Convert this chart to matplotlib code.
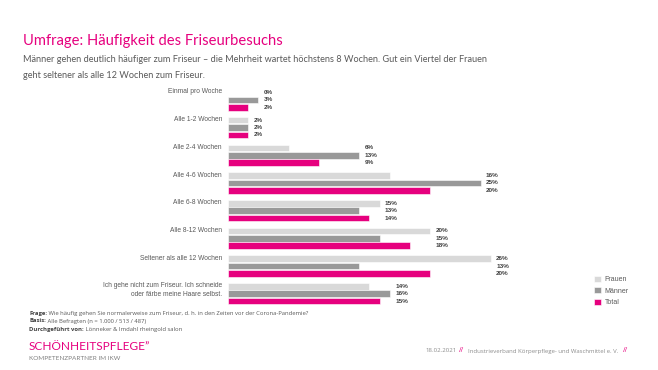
import numpy as np
import matplotlib
matplotlib.use("Agg")
import matplotlib.pyplot as plt

# Daten aus der Umfrage (Prozent)
kategorien = ["Einmal pro Woche", "Alle 1-2 Wochen", "Alle 2-4 Wochen", "Alle 4-6 Wochen",
              "Alle 6-8 Wochen", "Alle 8-12 Wochen", "Seltener als alle 12 Wochen",
              "Ich gehe nicht zum Friseur. Ich schneide\noder färbe meine Haare selbst."]
frauen = [0, 2, 6, 16, 15, 20, 26, 14]
maenner = [3, 2, 13, 25, 13, 15, 13, 16]
total = [2, 2, 9, 20, 14, 18, 20, 15]
serien = ["Frauen", "Männer", "Total"]

PINK = "#E6007E"
farben = ["#D9D9D9", "#999999", PINK]

W, H = 658, 370
fig = plt.figure(figsize=(W / 100, H / 100), dpi=100)
fig.patch.set_facecolor("white")

# Kopf
fig.text(23 / W, 1 - 41 / H, "Umfrage: Häufigkeit des Friseurbesuchs", color=PINK,
         fontsize=10.6, family="Lato", va="center")
fig.text(23 / W, 1 - 60 / H,
         "Männer gehen deutlich häufiger zum Friseur \u2013 die Mehrheit wartet höchstens 8 Wochen. "
         "Gut ein Viertel der Frauen", color="#595959", fontsize=6.6, family="Lato", va="center")
fig.text(23 / W, 1 - 75 / H, "geht seltener als alle 12 Wochen zum Friseur.",
         color="#595959", fontsize=6.6, family="Lato", va="center")

# Balken
gstep = 3.75
n = len(kategorien)
top_px, bot_px = 88.8, 304.8
ax = fig.add_axes([228 / W, 1 - bot_px / H, 303 / W, (bot_px - top_px) / H])
ax.set_xlim(0, 30)
ax.set_ylim(gstep * (n - 1) + 2 + 0.5, -0.5)
ax.axis("off")

basis = np.arange(n) * gstep
werte = [frauen, maenner, total]
for k in range(3):
    ax.barh(basis + k, werte[k], height=0.88, color=farben[k], edgecolor="white",
            linewidth=0.4, label=serien[k])

for g in range(n):
    m = max(frauen[g], maenner[g], total[g])
    for k in range(3):
        ax.text(m + 0.55, basis[g] + k, f"{werte[k][g]}%", fontsize=4.6, fontweight="bold",
                color="#404040", va="center", ha="left", family="Liberation Sans", clip_on=False)
    ax.text(-0.6, basis[g] - 0.55, kategorien[g], fontsize=4.8, color="#595959", ha="right",
            va="top", family="Liberation Sans", linespacing=1.35, clip_on=False)

fig.legend(loc="upper left", bbox_to_anchor=(594 / W, 1 - 275.5 / H), frameon=False,
           prop={"family": "Liberation Sans", "size": 5}, handlelength=1.0, handleheight=1.0,
           labelspacing=0.6, handletextpad=0.5, borderaxespad=0, borderpad=0, labelcolor="#595959")

# Fussnoten
fig.canvas.draw()
r = fig.canvas.get_renderer()
notiz = [("Frage:", " Wie häufig gehen Sie normalerweise zum Friseur, d. h. in den Zeiten vor der Corona-Pandemie?", 313),
         ("Basis:", " Alle Befragten (n = 1.000 / 513 / 487)", 321),
         ("Durchgeführt von:", " Lönneker & Imdahl rheingold salon", 329)]
for fett, rest, y in notiz:
    t = fig.text(29 / W, 1 - y / H, fett, fontsize=4.2, fontweight="bold", color="#404040",
                 family="Open Sans", va="center")
    bb = t.get_window_extent(r)
    fig.text(bb.x1 / W, 1 - y / H, rest, fontsize=4.2, color="#595959", family="Open Sans", va="center")

fig.text(29 / W, 1 - 347 / H, "SCHÖNHEITSPFLEGE\u201d", color=PINK, fontsize=8.6, family="Lato",
         va="center")
fig.text(29 / W, 1 - 359 / H, "KOMPETENZPARTNER IM IKW", color="#7F7F7F", fontsize=4.6,
         family="Lato", va="center")

fig.text(425 / W, 1 - 351 / H, "18.02.2021", color="#8C8C8C", fontsize=4.4, family="Open Sans", va="center")
fig.text(459 / W, 1 - 351 / H, "//", color=PINK, fontsize=5, family="Open Sans", va="center")
fig.text(468 / W, 1 - 351 / H, "Industrieverband Körperpflege- und Waschmittel e. V.", color="#8C8C8C",
         fontsize=4.3, family="Open Sans", va="center")
fig.text(623 / W, 1 - 351 / H, "//", color=PINK, fontsize=5, family="Open Sans", va="center")

fig.savefig("out.png", dpi=100, facecolor="white")
